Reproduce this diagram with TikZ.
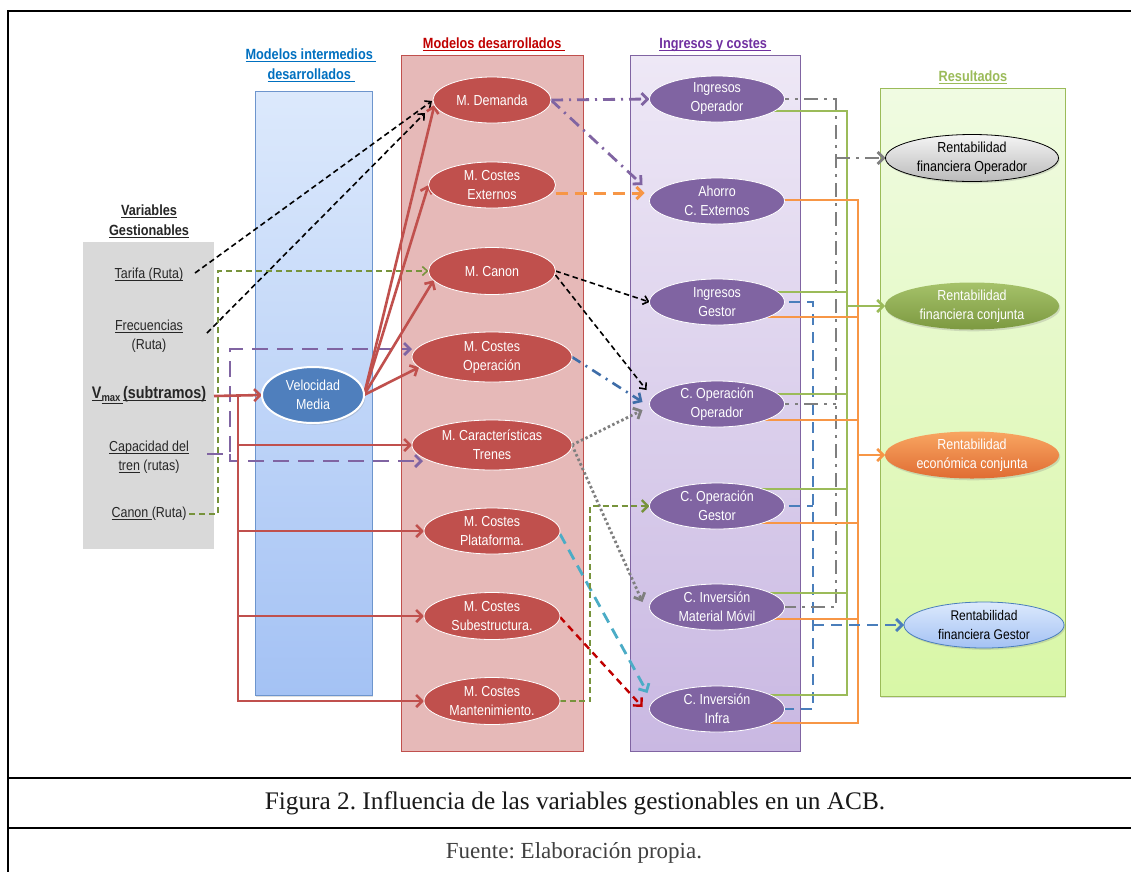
\documentclass[tikz,border=0pt]{standalone}
\usepackage{fontspec}
\setmainfont{Liberation Sans}[FakeStretch=0.86]
\newfontfamily\capfont{Liberation Serif}
\usetikzlibrary{arrows.meta,calc,shapes.geometric,shadows}
\frenchspacing

\definecolor{mred}{HTML}{C0504D}
\definecolor{redcol}{HTML}{E6B9B8}
\definecolor{mpur}{HTML}{8064A2}
\definecolor{purtop}{HTML}{EEE8F6}
\definecolor{purbot}{HTML}{C9B8E2}
\definecolor{bluetop}{HTML}{DCE9FC}
\definecolor{bluebot}{HTML}{A4C2F4}
\definecolor{bluedge}{HTML}{6D95CD}
\definecolor{vmfill}{HTML}{4F7FBD}
\definecolor{greentop}{HTML}{F0FBE2}
\definecolor{greenbot}{HTML}{D8F7A6}
\definecolor{greenln}{HTML}{9BBB59}
\definecolor{olive}{HTML}{77933C}
\definecolor{orangeln}{HTML}{F79646}
\definecolor{tblue}{HTML}{0070C0}
\definecolor{tred}{HTML}{C00000}
\definecolor{tpur}{HTML}{7030A0}
\definecolor{steel}{HTML}{3E6DA8}
\definecolor{busblue}{HTML}{4A7EBB}
\definecolor{cyanln}{HTML}{4BACC6}
\definecolor{greyln}{HTML}{7F7F7F}
\definecolor{greybox}{HTML}{D9D9D9}

% underline with a fixed offset below the baseline
\newcommand{\ulx}[1]{\setbox0=\hbox{#1}\rlap{\rule[-2.6pt]{\wd0}{1.1pt}}\box0\relax}

\pgfdeclarelayer{back}
\pgfdeclarelayer{wires}
\pgfsetlayers{back,wires,main}

\tikzset{
  every node/.style={inner sep=0pt, outer sep=0pt},
  basefont/.style={font=\fontsize{14.5}{19}\selectfont},
  ell/.style={ellipse, align=center, inner sep=-10pt, basefont},
  softshadow/.style={drop shadow={shadow xshift=1.2pt, shadow yshift=-1.8pt, opacity=0.25}},
  redell/.style={ell, fill=mred, draw=white, line width=0.8pt, text=white},
  purell/.style={ell, fill=mpur, draw=white, line width=0.8pt, text=white,
                 minimum width=135pt, minimum height=46pt},
  lefttxt/.style={align=center, basefont, text=black!85},
  ttl/.style={align=center, font=\bfseries\fontsize{14.8}{20}\selectfont},
  arrL/.style={-{Straight Barb[length=6pt,width=12pt]}},
  arrS/.style={-{Straight Barb[length=5pt,width=9pt]}},
  blk/.style={draw=black, line width=1.6pt, dash pattern=on 5.5pt off 3.5pt, arrS},
  redln/.style={draw=mred, line width=2.6pt},
  redarr/.style={redln, arrL},
  pdl/.style={draw=mpur, line width=2.8pt, dash pattern=on 16pt off 9pt, arrL},
  oliveA/.style={draw=olive, line width=1.6pt, dash pattern=on 6pt off 4pt, arrS},
  oliveB/.style={draw=olive, line width=2.4pt, dash pattern=on 6pt off 3.5pt, arrL},
  pdd/.style={draw=mpur, line width=2.8pt, dash pattern=on 12pt off 6pt on 2pt off 6pt, arrL},
  odash/.style={draw=orangeln, line width=3pt, dash pattern=on 12pt off 7pt, arrL},
  bdd/.style={draw=steel, line width=2.6pt, dash pattern=on 10pt off 6pt on 2pt off 6pt, arrL},
  gdot/.style={draw=greyln, line width=2.8pt, dash pattern=on 2.5pt off 2.5pt, arrL},
  cdash/.style={draw=cyanln, line width=2.8pt, dash pattern=on 11pt off 7pt, arrL},
  rdash/.style={draw=tred, line width=2.4pt, dash pattern=on 7pt off 5pt, arrL},
  grl/.style={draw=greenln, line width=2.6pt},
  orl/.style={draw=orangeln, line width=2.6pt},
  gdd/.style={draw=greyln, line width=2.8pt, dash pattern=on 14pt off 6pt on 3pt off 6pt},
  bdl/.style={draw=busblue, line width=2.8pt, dash pattern=on 11pt off 7pt},
  frame/.style={draw=black, line width=2.4pt}
}

\begin{document}
\begin{tikzpicture}[x=1pt,y=-1pt]
\useasboundingbox (0,0) rectangle (1131,871);

% ---------- column panels ----------
\begin{pgfonlayer}{back}
\fill[white] (0,0) rectangle (1131,871);
\fill[greybox] (83,242) rectangle (214,549);
\draw[draw=bluedge, line width=0.9pt, top color=bluetop, bottom color=bluebot, softshadow] (255,91) rectangle (372,695);
\draw[draw=mred, line width=0.9pt, fill=redcol] (401,55) rectangle (583,751);
\draw[draw=mpur, line width=0.9pt, top color=purtop, bottom color=purbot] (630,55) rectangle (800,751);
\draw[draw=greenln, line width=0.9pt, top color=greentop, bottom color=greenbot, softshadow] (880,88) rectangle (1065,696);
\end{pgfonlayer}

% ---------- frame and caption ----------
\draw[frame] (8,875) -- (8,11) -- (1140,11);
\draw[frame] (8,778) -- (1140,778);
\draw[frame] (8,828) -- (1140,828);
\node[anchor=base, font=\capfont\fontsize{25.3}{30}\selectfont, text=black!90] (fig) at (575,809)
  {Figura 2. Influencia de las variables gestionables en un ACB.};
\node[anchor=base, font=\capfont\fontsize{23}{28}\selectfont, text=black!75] (src) at (574,858)
  {Fuente: Elaboración propia.};

% ---------- titles ----------
\node[ttl, text=black!85] (tvar) at (149,221) {\ulx{Variables}\\\ulx{Gestionables}};
\node[ttl, text=tblue] (tmid) at (311,65) {\ulx{Modelos intermedios\ }\\\ulx{desarrollados\ }};
\node[ttl, text=tred, anchor=base] (tmod) at (494,48) {\ulx{Modelos desarrollados\ }};
\node[ttl, text=tpur, anchor=base] (ting) at (715,48) {\ulx{Ingresos y costes\ }};
\node[ttl, text=greenln, anchor=base] (tres) at (973,81) {\ulx{Resultados}};

% ---------- manageable variables ----------
\node[lefttxt] (tarifa) at (149,275) {\ulx{Tarifa (Ruta)}};
\node[lefttxt] (frec) at (149,336) {\ulx{Frecuencias}\\(Ruta)};
\node[lefttxt, font=\bfseries\fontsize{16.7}{20}\selectfont] (vmax) at (149,395)
  {\ulx{V}\raisebox{-3pt}{\ulx{\fontsize{11}{11}\selectfont max\ }}\ulx{(subtramos)}};
\node[lefttxt] (cap) at (149,457) {\ulx{Capacidad del}\\\ulx{tren} (rutas)};
\node[lefttxt] (canon) at (149,514) {\ulx{Canon\ }(Ruta)};

% ---------- intermediate model ----------
\node[ell, fill=vmfill, draw=white, line width=2pt, text=white, softshadow,
      minimum width=102pt, minimum height=56pt] (vm) at (313,395) {Velocidad\\Media};

% ---------- developed models ----------
\node[redell, minimum width=118pt, minimum height=46pt] (md)  at (492,100) {M. Demanda};
\node[redell, minimum width=127pt, minimum height=46pt] (mce) at (492,185) {M. Costes\\Externos};
\node[redell, minimum width=127pt, minimum height=47pt] (mca) at (492,271) {M. Canon};
\node[redell, minimum width=160pt, minimum height=50pt] (mco) at (492,357) {M. Costes\\Operación};
\node[redell, minimum width=160pt, minimum height=50pt] (mct) at (492,445) {M. Características\\Trenes};
\node[redell, minimum width=136pt, minimum height=46pt] (mcp) at (492,531) {M. Costes\\Plataforma.};
\node[redell, minimum width=136pt, minimum height=47pt] (mcs) at (492,616) {M. Costes\\Subestructura.};
\node[redell, minimum width=136pt, minimum height=47pt] (mcm) at (492,701) {M. Costes\\Mantenimiento.};

% ---------- revenues and costs ----------
\node[purell] (io)  at (717,99)  {Ingresos\\Operador};
\node[purell] (ah)  at (717,201) {Ahorro\\C. Externos};
\node[purell] (ig)  at (717,302) {Ingresos\\Gestor};
\node[purell] (coo) at (717,404) {C. Operación\\Operador};
\node[purell] (cog) at (717,506) {C. Operación\\Gestor};
\node[purell] (cim) at (717,607) {C. Inversión\\Material Móvil};
\node[purell] (cii) at (717,709) {C. Inversión\\Infra};

% ---------- results ----------
\node[ell, top color=black!4, bottom color=black!27, draw=black, line width=0.8pt, text=black, softshadow,
      minimum width=173pt, minimum height=47pt] (rfo) at (972,158) {Rentabilidad\\financiera Operador};
\node[ell, top color=greenln!90!white, bottom color=olive!85!greenln, text=white, softshadow,
      minimum width=174pt, minimum height=47pt] (rfc) at (972,306) {Rentabilidad\\financiera conjunta};
\node[ell, top color=orangeln!85!white, bottom color=orangeln!80!red!90!black, text=white, softshadow,
      minimum width=174pt, minimum height=47pt] (rec) at (972,455) {Rentabilidad\\económica conjunta};
\node[ell, top color=bluetop, bottom color=bluebot, draw=busblue, line width=0.8pt, text=black, softshadow,
      font=\fontsize{14}{18.5}\selectfont,
      minimum width=160pt, minimum height=46pt] (rfg) at (984,625) {Rentabilidad\\financiera Gestor};

% ---------- connectors ----------
\begin{pgfonlayer}{wires}
% variables -> models
\draw[blk] ($(tarifa)+(46,-2)$) -- ($(md.west)+(-1,1)$);
\draw[blk] ($(frec)+(58,-3)$) -- ($(md.west)+(-8,13)$);
\draw[oliveA] ($(canon)+(40,0)$) -- ++(29,0) |- (mca.west);
\coordinate (cs) at ($(cap)+(58,-3)$);
\draw[pdl] (cs) -- ++(23,0) |- ($(mco.west)+(0,-8)$);
\draw[pdl] (cs) ++(23,0) |- ($(mct.west)+(11,16)$);

\coordinate (vs) at ($(vmax)+(65,1)$);
\coordinate (tk) at ($(vs)+(24,0)$);
\draw[redarr] (vs) -- (vm.west);
\draw[redarr] (tk) |- (mcm.west);
\draw[redarr] (tk |- mct.west) -- (mct.west);
\draw[redarr] (tk |- mcp.west) -- (mcp.west);
\draw[redarr] (tk |- mcs.west) -- (mcs.west);
\draw[redarr] (vm.east) -- (md.185);
\draw[redarr] (vm.east) -- (mce.west);
\draw[redarr] (vm.east) -- (mca.189);
\draw[redarr] (vm.east) -- (mco.188);

% models -> revenues and costs
\draw[pdd] (md.east) -- (io.west);
\draw[pdd] (md.east) -- ($(ah.west)+(-7,-16)$);
\draw[odash] ($(mce.east)+(0,8)$) -- ($(ah.west)+(-5,-8)$);
\draw[blk] (mca.east) -- (ig.west);
\draw[blk] ($(mca.east)+(0,4)$) -- ($(coo.west)+(-3,-14)$);
\draw[bdd] (mco.east) -- ($(coo.west)+(-7,-2)$);
\draw[gdot] (mct.east) -- ($(coo.west)+(-7,6)$);
\draw[gdot] (mct.east) -- ($(cim.west)+(-7,-5)$);
\draw[cdash] ($(mcp.east)+(0,3)$) -- ($(cii.west)+(-2,-16)$);
\draw[rdash] ($(mcs.east)+(0,1)$) -- ($(cii.west)+(-7,-2)$);
\draw[oliveB] (mcm.east) -- ++(30,0) |- (cog.west);

% revenues and costs -> results (collector buses)
\coordinate (bb)  at (813,0);
\coordinate (bg)  at (836,0);
\coordinate (bgr) at (847,0);
\coordinate (bo)  at (858,0);

\draw[bdl] (ig.center) -- (ig -| bb) |- (cii.center);
\draw[bdl] (cog.center) -- (cog -| bb);

\draw[gdd] (io.center) -- (io -| bg) |- (cim.center);
\draw[gdd] (coo.center) -- (coo -| bg);

\draw[grl] ($(io)+(0,12)$) coordinate (g1) -- (g1 -| bgr) |- ($(cii)+(0,-14)$);
\foreach \n/\d in {ig/-10, coo/-10, cog/-17, cim/-14}
  \draw[grl] ($(\n)+(0,\d)$) coordinate (gt) -- (gt -| bgr);

\draw[orl] ($(ah)+(0,-1)$) coordinate (o1) -- (o1 -| bo) |- ($(cii)+(0,14)$);
\foreach \n/\d in {ig/15, coo/16, cog/17, cim/12}
  \draw[orl] ($(\n)+(0,\d)$) coordinate (ot) -- (ot -| bo);

\draw[gdd, arrL] (rfo -| bg) -- (rfo.west);
\draw[grl, arrL] (rfc -| bgr) -- (rfc.west);
\draw[orl, arrL] (rec -| bo) -- (rec.west);
\draw[bdl, arrL] (rfg -| bb) -- (rfg.west);
\end{pgfonlayer}
\end{tikzpicture}
\end{document}
